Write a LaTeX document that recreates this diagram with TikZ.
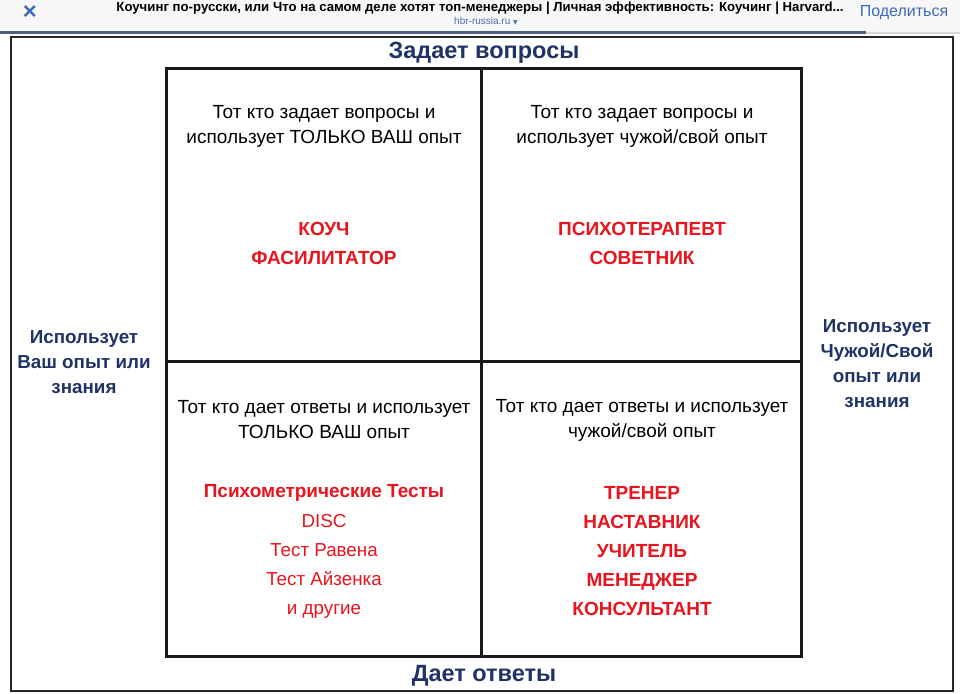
\documentclass[tikz,border=0pt]{standalone}
\usepackage{fontspec}
\setmainfont{Liberation Sans}
\newfontfamily\symfont{DejaVu Sans}
\definecolor{navy}{HTML}{1F3366}
\definecolor{rolered}{HTML}{E8141E}
\definecolor{linkblue}{HTML}{3D6CB4}
\definecolor{hdrbg}{HTML}{F7F7F7}
\definecolor{barnavy}{HTML}{4E5B82}
\begin{document}
\begin{tikzpicture}[x=1pt,y=-1pt,
  axis/.style={text=navy,font=\bfseries\fontsize{18.8}{25}\selectfont,align=center,inner sep=0pt},
  title/.style={text=navy,font=\bfseries\fontsize{23.5}{25}\selectfont,inner sep=0pt},
  desc/.style={text=black,font=\fontsize{19}{25}\selectfont,align=center,inner sep=0pt},
  roles/.style={text=rolered,font=\bfseries\fontsize{19}{29}\selectfont,align=center,inner sep=0pt},
  rolesreg/.style={text=rolered,font=\fontsize{18.8}{29}\selectfont,align=center,inner sep=0pt},
  grid/.style={line width=3pt,draw=black!90},
]
\useasboundingbox (0,0) rectangle (960,693);
\fill[white] (0,0) rectangle (960,693);
% header
\fill[hdrbg] (0,0) rectangle (960,32);
\fill[barnavy] (0,31.5) rectangle (866,34);
\fill[black!15] (866,32) rectangle (960,34);
\node[text=linkblue,font=\bfseries\fontsize{24}{24}\selectfont,inner sep=0pt] (close) at (30,13) {×};
\node[font=\bfseries\fontsize{13.2}{14}\selectfont,inner sep=0pt] (pagetitle) at (480,8) {Коучинг по-русски, или Что на самом деле хотят топ-менеджеры | Личная эффективность: Коучинг | Harvard...};
\node[text=linkblue!80!gray,font=\fontsize{10}{12}\selectfont,inner sep=0pt] (site) at (486,21) {hbr-russia.ru {\symfont\fontsize{6}{8}\selectfont ▼}};
\node[text=linkblue,font=\fontsize{16}{18}\selectfont,inner sep=0pt] (share) at (904,13) {Поделиться};
% outer frame
\draw[line width=1.6pt,black!85] (11,37) rectangle (953,691);
% grid
\draw[grid] (166,68) rectangle (801,656);
\coordinate (vt) at (481,68);
\coordinate (vb) at (481,656);
\coordinate (hl) at (166,361);
\coordinate (hr) at (801,361);
\draw[grid] (vt) -- (vb);
\draw[grid] (hl) -- (hr);
% axis titles
\node[title] (top) at (484,53) {Задает вопросы};
\node[title] (bottom) at (484,676) {Дает ответы};
\node[axis] (left) at (84,362) {Использует\\Ваш опыт или\\знания};
\node[axis] (right) at (877,364) {Использует\\Чужой/Свой\\опыт или\\знания};
% cell descriptions
\node[desc] (d1) at (324,126) {Тот кто задает вопросы и\\использует ТОЛЬКО ВАШ опыт};
\node[desc] (d2) at (642,126) {Тот кто задает вопросы и\\использует чужой/свой опыт};
\node[desc] (d3) at (324,420) {Тот кто дает ответы и использует\\ТОЛЬКО ВАШ опыт};
\node[desc] (d4) at (642,420) {Тот кто дает ответы и использует\\чужой/свой опыт};
% roles
\node[roles] (r1) at (324,243) {КОУЧ\\ФАСИЛИТАТОР};
\node[roles] (r2) at (642,243) {ПСИХОТЕРАПЕВТ\\СОВЕТНИК};
\node[roles] (r3a) at (324,493) {Психометрические Тесты};
\node[rolesreg] (r3b) at (324,566) {DISC\\Тест Равена\\Тест Айзенка\\и другие};
\node[roles] (r4) at (642,551) {ТРЕНЕР\\НАСТАВНИК\\УЧИТЕЛЬ\\МЕНЕДЖЕР\\КОНСУЛЬТАНТ};
\end{tikzpicture}
\end{document}
